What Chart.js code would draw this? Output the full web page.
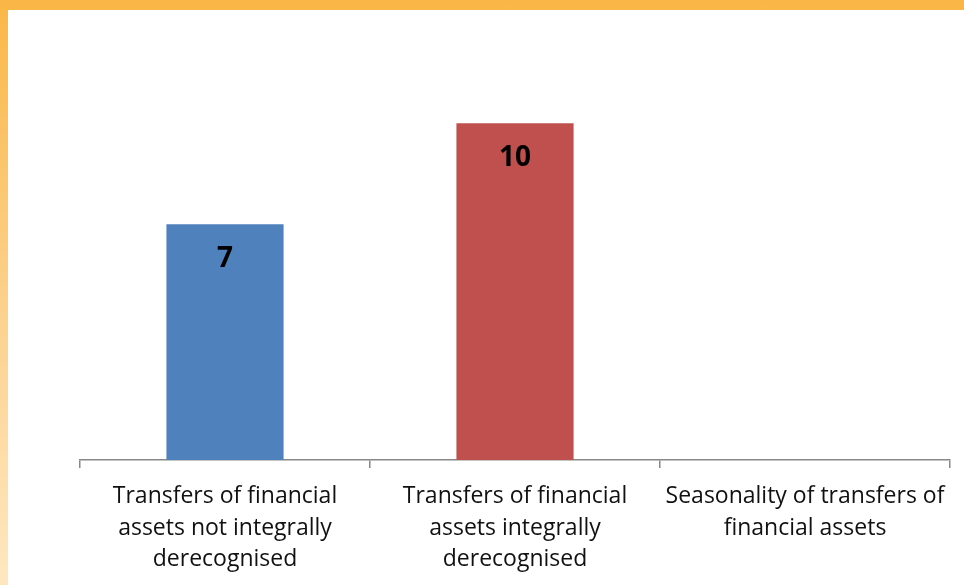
<!DOCTYPE html>
<html>
<head>
<meta charset="utf-8">
<script src="https://cdn.jsdelivr.net/npm/chart.js@4/dist/chart.umd.min.js"></script>
<style>
  html, body { margin: 0; padding: 0; }
  body { width: 964px; height: 585px; overflow: hidden;
         background: linear-gradient(to bottom, #FAB746 0%, #FCD08A 50%, #FEE7C0 100%); position: relative; }
  #box { position: absolute; left: 8px; top: 10px; width: 956px; height: 575px; background: #fff; }
  canvas { display: block; }
</style>
</head>
<body>
<div id="box"><canvas id="c" width="956" height="575"></canvas></div>
<script>
const categories = [
  ["Transfers of financial", "assets not integrally", "derecognised"],
  ["Transfers of financial", "assets integrally", "derecognised"],
  ["Seasonality of transfers of", "financial assets"]
];
const values = [7, 10, null];
const barColors = ["#4F81BD", "#C0504D", "#9BBB59"];

const valueLabels = {
  id: 'valueLabels',
  afterDatasetsDraw(chart) {
    const ctx = chart.ctx;
    const meta = chart.getDatasetMeta(0);
    ctx.save();
    ctx.font = "bold 28px 'Open Sans', 'DejaVu Sans', sans-serif";
    ctx.fillStyle = "#000";
    ctx.textAlign = "center";
    ctx.textBaseline = "middle";
    meta.data.forEach((el, i) => {
      const v = chart.data.datasets[0].data[i];
      if (v === null || v === undefined) return;
      ctx.fillText(String(v), el.x, el.y + 35);
    });
    ctx.restore();
  }
};

new Chart(document.getElementById('c'), {
  type: 'bar',
  data: {
    labels: categories,
    datasets: [{
      data: values,
      backgroundColor: barColors,
      categoryPercentage: 0.8,
      barPercentage: 0.505
    }]
  },
  options: {
    responsive: false,
    animation: false,
    events: [],
    layout: { padding: { left: 72, right: 14, top: 46, bottom: 0 } },
    plugins: { legend: { display: false }, tooltip: { enabled: false } },
    scales: {
      x: {
        offset: true,
        grid: { display: true, drawOnChartArea: false, drawTicks: true, tickLength: 8, color: '#888888', lineWidth: 1.5, offset: true },
        border: { display: true, color: '#888888', width: 1.5 },
        ticks: { color: '#111', font: { family: "'Open Sans', Lato, sans-serif", size: 23, lineHeight: 1.39 }, maxRotation: 0, autoSkip: false, padding: 12 },
        afterFit(scale) { scale.height = 125; }
      },
      y: { display: false, min: 0, max: 12 }
    }
  },
  plugins: [valueLabels]
});
</script>
</body>
</html>
